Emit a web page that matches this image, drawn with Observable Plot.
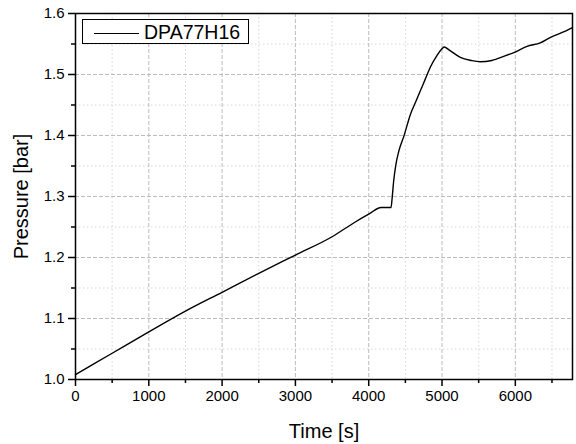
<!DOCTYPE html>
<html><head><meta charset="utf-8">
<script src="https://cdn.jsdelivr.net/npm/d3@7"></script>
<script src="https://cdn.jsdelivr.net/npm/@observablehq/plot@0.6"></script>
<style>
body{margin:0;background:#fff;}
#wrap{position:relative;width:576px;height:444px;font-family:"Liberation Sans",Arial,sans-serif;}
#legend{position:absolute;left:82px;top:19px;width:167px;height:25px;border:1px solid #000;background:#fff;box-sizing:border-box;}
#legend .ln{position:absolute;left:11px;top:13px;width:45px;height:0;border-top:1.3px solid #000;}
#legend .tx{position:absolute;left:61px;top:1px;font-size:19.5px;line-height:22px;color:#000;}
</style></head>
<body><div id="wrap"></div>
<script>
const seriesName = "DPA77H16";
const time = [0, 500, 1000, 1500, 2000, 2500, 3000, 3500, 3800, 4000, 4170, 4305, 4320, 4340, 4370, 4410, 4480, 4570, 4640, 4700, 4770, 4840, 4930, 4990, 5030, 5100, 5250, 5400, 5520, 5680, 5850, 5980, 6160, 6340, 6480, 6640, 6780];
const pressure = [1.008, 1.043, 1.078, 1.112, 1.143, 1.174, 1.204, 1.234, 1.257, 1.271, 1.282, 1.282, 1.298, 1.325, 1.352, 1.374, 1.399, 1.435, 1.455, 1.472, 1.492, 1.512, 1.531, 1.541, 1.545, 1.540, 1.528, 1.523, 1.521, 1.523, 1.530, 1.536, 1.546, 1.552, 1.561, 1.569, 1.577];
const xMajor = [0, 1000, 2000, 3000, 4000, 5000, 6000];
const xMinor = [500, 1500, 2500, 3500, 4500, 5500, 6500];
const yMajor = [1.0, 1.1, 1.2, 1.3, 1.4, 1.5, 1.6];
const yMinor = [1.05, 1.15, 1.25, 1.35, 1.45, 1.55];
const xLabel = "Time [s]";
const yLabel = "Pressure [bar]";

const data = time.map((t, i) => ({t, p: pressure[i]}));

const chart = Plot.plot({
  width: 576, height: 444,
  marginLeft: 75, marginRight: 4, marginTop: 13, marginBottom: 65,
  style: {fontFamily: '"Liberation Sans", Arial, sans-serif', fontSize: "15px", color: "#000", background: "#fff"},
  x: {domain: [0, 6780]},
  y: {domain: [1.0, 1.6]},
  marks: [
    Plot.gridX(xMinor, {stroke: "#d6d6d6", strokeOpacity: 1, strokeDasharray: "1.5,2.5", strokeWidth: 1}),
    Plot.gridY(yMinor, {stroke: "#d6d6d6", strokeOpacity: 1, strokeDasharray: "1.5,2.5", strokeWidth: 1}),
    Plot.gridX(xMajor, {stroke: "#bcbcbc", strokeOpacity: 1, strokeDasharray: "4,2", strokeWidth: 1}),
    Plot.gridY(yMajor, {stroke: "#bcbcbc", strokeOpacity: 1, strokeDasharray: "4,2", strokeWidth: 1}),
    Plot.line(data, {x: "t", y: "p", stroke: "#000", strokeWidth: 1.4, curve: "monotone-x"}),
    Plot.axisX({ticks: xMinor, tickSize: 4, tickFormat: () => "", strokeWidth: 1.5, label: null}),
    Plot.axisY({ticks: yMinor, tickSize: 4, tickFormat: () => "", strokeWidth: 1.5, label: null}),
    Plot.axisX({ticks: xMajor, tickSize: 7, tickPadding: 4, strokeWidth: 1.5, fontSize: 15, tickFormat: d3.format("d"),
      label: xLabel, labelAnchor: "center", labelArrow: "none", labelOffset: 58}),
    Plot.axisY({ticks: yMajor, tickSize: 7, tickPadding: 4, strokeWidth: 1.5, fontSize: 15, tickFormat: d3.format(".1f"),
      label: yLabel, labelAnchor: "center", labelArrow: "none", labelOffset: 62}),
    Plot.frame({stroke: "#000", strokeWidth: 1.5})
  ]
});
chart.querySelectorAll("g[aria-label='x-axis label'] text, g[aria-label='y-axis label'] text").forEach(t => t.setAttribute("font-size", "20"));
const wrap = document.getElementById("wrap");
wrap.appendChild(chart);
const leg = document.createElement("div");
leg.id = "legend";
leg.innerHTML = '<div class="ln"></div><div class="tx"></div>';
leg.querySelector(".tx").textContent = seriesName;
wrap.appendChild(leg);
</script></body></html>
